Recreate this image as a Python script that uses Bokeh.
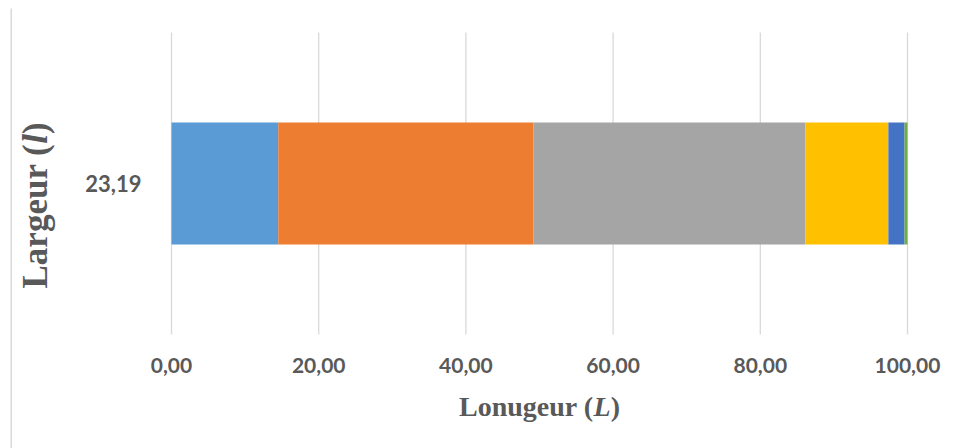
import math
from bokeh.plotting import figure
from bokeh.models import (ColumnDataSource, Range1d, FixedTicker, LinearAxis,
                          Label, BoxAnnotation)
from bokeh.embed import file_html
from bokeh.resources import INLINE

# --- data -------------------------------------------------------------
width_category = ["23,19"]
segment_values = [14.5, 34.7, 36.9, 11.3, 2.2, 0.4]
segment_colors = ["#5B9BD5", "#ED7D31", "#A5A5A5", "#FFC000", "#4472C4", "#70AD47"]
x_ticks = [0, 20, 40, 60, 80, 100]
x_tick_labels = ["0,00", "20,00", "40,00", "60,00", "80,00", "100,00"]

# --- geometry of the canvas (pixels) ----------------------------------
W, H = 961, 448
PLOT_L, PLOT_R, PLOT_T, PLOT_B = 171, 907, 32, 334     # plot area inside the canvas
x_px = (PLOT_R - PLOT_L) / (x_ticks[-1] - x_ticks[0])
y_px = PLOT_B - PLOT_T                                   # one category band

# the frame covers the whole canvas; ranges are set so the plot area sits where wanted
x_range = Range1d(x_ticks[0] - PLOT_L / x_px, x_ticks[-1] + (W - PLOT_R) / x_px)
y_range = Range1d(-0.5 - (H - PLOT_B) / y_px, 0.5 + PLOT_T / y_px)

cat_pos = list(range(len(width_category)))               # category at y = 0
stackers = [f"s{i}" for i in range(len(segment_values))]
data = {"y": cat_pos}
for name, v in zip(stackers, segment_values):
    data[name] = [v]
source = ColumnDataSource(data)

p = figure(width=W, height=H, output_backend="svg", toolbar_location=None,
           x_range=x_range, y_range=y_range,
           x_axis_location=None, y_axis_location=None,
           min_border=0, min_border_left=0, min_border_right=0,
           min_border_top=0, min_border_bottom=0)
p.outline_line_color = None
p.background_fill_color = "white"
p.border_fill_color = "white"
p.xgrid.visible = False
p.ygrid.visible = False

# vertical gridlines over the plot area
p.segment(x0=x_ticks, x1=x_ticks, y0=[-0.5] * len(x_ticks), y1=[0.5] * len(x_ticks),
          line_color="#D9D9D9", line_width=1.3)

# stacked bar
p.hbar_stack(stackers, y="y", height=0.404, color=segment_colors,
             line_color=None, source=source)

# axes pinned to the edges of the plot area
TEXT_GREY = "#595959"
xaxis = LinearAxis(fixed_location=-0.5, ticker=FixedTicker(ticks=x_ticks),
                   major_label_overrides={t: lab for t, lab in zip(x_ticks, x_tick_labels)})
yaxis = LinearAxis(fixed_location=x_ticks[0], ticker=FixedTicker(ticks=cat_pos),
                   major_label_overrides={c: lab for c, lab in zip(cat_pos, width_category)})
for ax in (xaxis, yaxis):
    ax.axis_line_color = None
    ax.major_tick_line_color = None
    ax.minor_tick_line_color = None
    ax.major_label_text_font = "Lato"
    ax.major_label_text_font_style = "bold"
    ax.major_label_text_font_size = "21px"
    ax.major_label_text_color = TEXT_GREY
xaxis.major_label_standoff = 17
yaxis.major_label_standoff = 24
yaxis.major_label_text_font_size = "22px"
p.add_layout(xaxis, "below")
p.add_layout(yaxis, "left")

# axis titles built from pieces so the variable letter can be italic
SERIF = "Liberation Serif"

def add_pieces(pieces, x0, y0, size, angle=0.0):
    """Place text pieces one after another along the given angle (canvas px, y up)."""
    pos = 0.0
    for text, style, em in pieces:
        p.add_layout(Label(x=x0 + pos * math.cos(angle), y=y0 + pos * math.sin(angle),
                           x_units="screen", y_units="screen",
                           text=text, text_font=SERIF, text_font_style=style,
                           text_font_size=f"{size}px", text_color=TEXT_GREY,
                           text_align="left", text_baseline="alphabetic",
                           angle=angle))
        pos += em * size

# x title: "Lonugeur (L)" centred under the plot area
xs = 28
x_pieces = [("Lonugeur (", "bold", 4.806), ("L", "bold italic", 0.611), (")", "bold", 0.333)]
x_total = sum(e for _, _, e in x_pieces) * xs
add_pieces(x_pieces, (PLOT_L + PLOT_R) / 2 - x_total / 2, H - 406, xs)

# y title: "Largeur (l)" rotated
ys = 35
y_pieces = [("Largeur (", "bold", 4.138), ("l", "bold italic", 0.278), (")", "bold", 0.333)]
add_pieces(y_pieces, 35, H - 288, ys, angle=math.pi / 2)

# thin chart border on the left side
p.add_layout(BoxAnnotation(left=10, right=11.5, bottom=0, top=H - 8,
                           left_units="screen", right_units="screen",
                           bottom_units="screen", top_units="screen",
                           fill_color="#D9D9D9", fill_alpha=1.0, line_color=None))

open("out.html", "w").write(file_html(p, INLINE))
